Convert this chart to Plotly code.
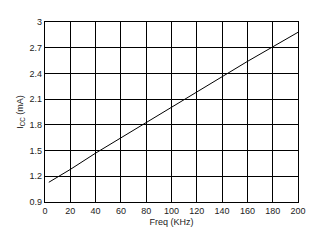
import plotly.graph_objects as go

freq = [3, 20, 40, 60, 80, 100, 120, 140, 160, 180, 200]
icc = [1.13, 1.28, 1.47, 1.65, 1.82, 2.00, 2.18, 2.36, 2.54, 2.71, 2.88]
x_ticks = [0, 20, 40, 60, 80, 100, 120, 140, 160, 180, 200]
y_ticks = [0.9, 1.2, 1.5, 1.8, 2.1, 2.4, 2.7, 3.0]
y_labels = ["0.9", "1.2", "1.5", "1.8", "2.1", "2.4", "2.7", "3"]

fig = go.Figure()
fig.add_trace(go.Scatter(x=freq, y=icc, mode="lines",
                         line=dict(color="black", width=1), showlegend=False))

font = dict(family="Liberation Sans, Arial", size=9, color="#222")
fig.update_layout(
    width=321, height=243,
    margin=dict(l=45, r=23, t=22, b=41),
    paper_bgcolor="white", plot_bgcolor="white",
    font=font,
    xaxis=dict(range=[0, 200], tickvals=x_ticks, showgrid=True, gridcolor="black",
               gridwidth=1.3, showline=True, linecolor="black", linewidth=1.3,
               mirror=True, zeroline=False, ticks="", ticklen=0,
               title=dict(text="Freq (KHz)", standoff=3, font=font)),
    yaxis=dict(range=[0.9, 3.0], tickvals=y_ticks, ticktext=y_labels, showgrid=True,
               gridcolor="black", gridwidth=1.3, showline=True, linecolor="black",
               linewidth=1.3, mirror=True, zeroline=False, ticks="", ticklen=0,
               title=dict(text="I<sub>CC</sub> (mA)", standoff=4, font=font)),
)
fig.write_html("out.html")
